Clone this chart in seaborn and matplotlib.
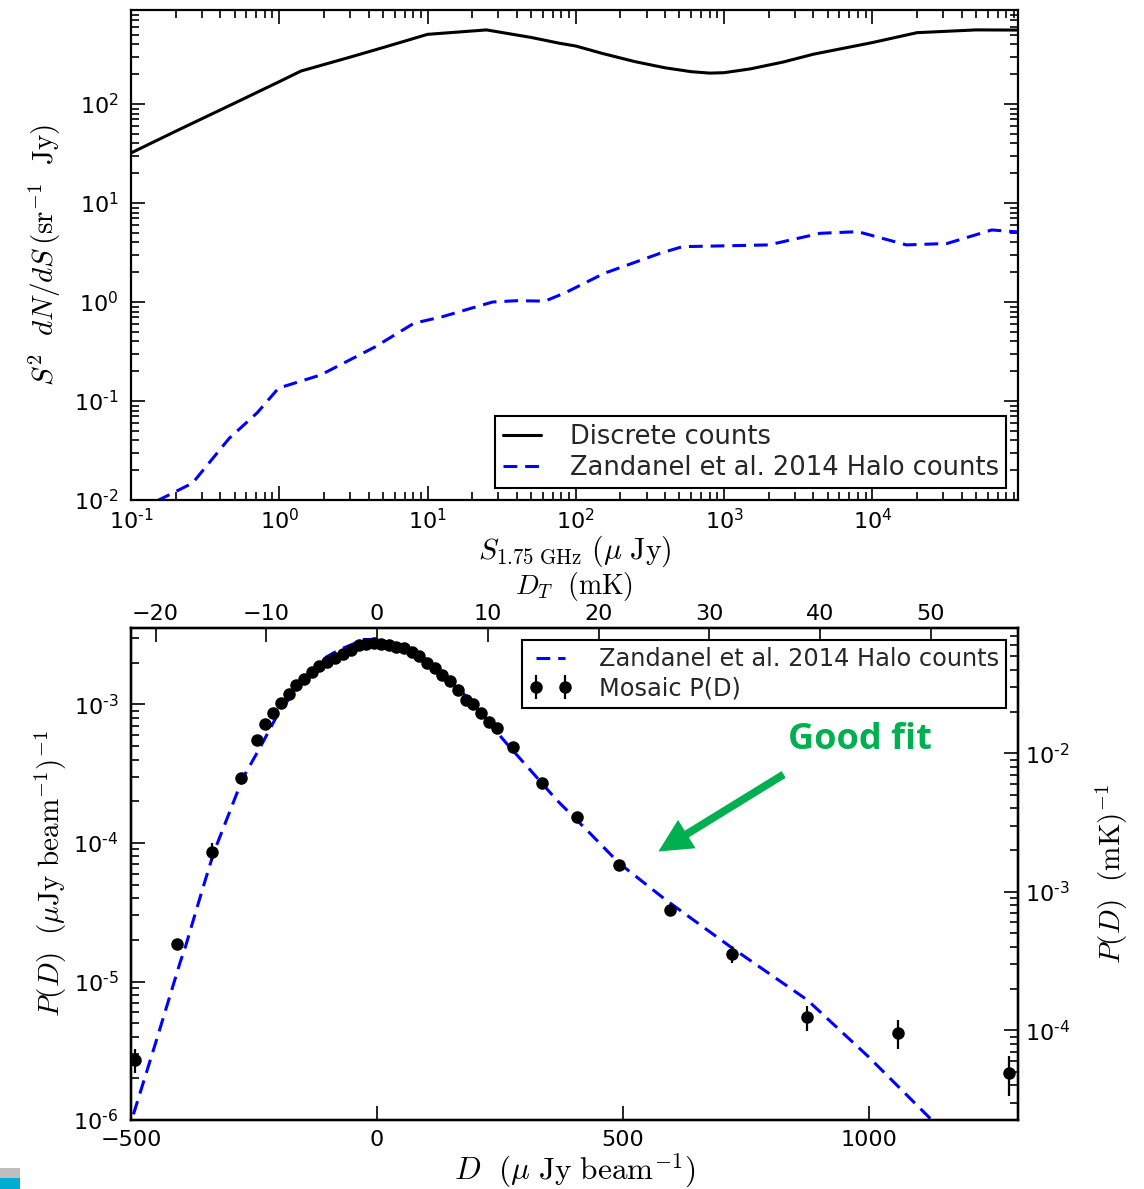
import numpy as np
import pandas as pd
import matplotlib
matplotlib.use("Agg")
import matplotlib.pyplot as plt
import seaborn as sns
from matplotlib.ticker import LogLocator, FixedLocator, FuncFormatter, NullFormatter, NullLocator
from matplotlib.patches import Rectangle, FancyArrowPatch
from matplotlib.lines import Line2D

# ---------------- data: Euclidean-normalised source counts ----------------
flux_discrete = [0.1, 0.2, 0.5, 1.0, 1.4, 3.0, 5.0, 10.0, 25.0, 50.0, 78.0, 100.0, 150.0, 250.0,
                 400.0, 600.0, 800.0, 1000.0, 1500.0, 2500.0, 4000.0, 10000.0, 20000.0, 50000.0, 95000.0]
counts_discrete = [32, 53, 102, 168, 215, 297, 371, 505, 560, 470, 410, 385, 325, 268,
                   232, 212, 205, 207, 226, 265, 318, 417, 525, 560, 558]

flux_halo = [0.15, 0.26, 0.46, 0.71, 0.99, 1.9, 4.4, 8.1, 12.6, 27.5, 40.0, 62.0, 85.0,
             156.0, 370.0, 525.0, 2000.0, 4460.0, 7990.0, 17000.0, 32000.0, 64000.0, 95000.0]
counts_halo = [0.0098, 0.0148, 0.042, 0.076, 0.135, 0.183, 0.35, 0.61, 0.71, 1.0, 1.03, 1.02, 1.24,
               1.95, 3.1, 3.62, 3.77, 4.94, 5.13, 3.77, 3.9, 5.34, 5.1]

# ---------------- data: P(D) of the mosaic ----------------
pd_flux = [-492.5, -406.2, -335.1, -276.8, -243.3, -227.9, -212.2, -196.0, -179.8, -164.1,
           -149.3, -133.0, -117.4, -101.9, -86.3, -70.1, -53.6, -37.6, -22.7, -7.1,
           8.5, 23.4, 39.0, 54.4, 70.1, 85.7, 101.1, 116.8, 132.4, 148.7,
           164.1, 179.7, 195.0, 210.8, 227.1, 243.1, 276.6, 335.5, 405.8, 491.1,
           596.1, 721.6, 873.7, 1059.1, 1283.5]
pd_value = [2.72e-6, 1.85e-5, 8.67e-5, 2.94e-4, 5.55e-4, 7.21e-4, 8.61e-4, 1.03e-3, 1.19e-3, 1.38e-3,
            1.52e-3, 1.71e-3, 1.88e-3, 2.03e-3, 2.16e-3, 2.32e-3, 2.49e-3, 2.68e-3, 2.75e-3, 2.77e-3,
            2.75e-3, 2.68e-3, 2.61e-3, 2.54e-3, 2.40e-3, 2.22e-3, 1.99e-3, 1.84e-3, 1.63e-3, 1.47e-3,
            1.27e-3, 1.08e-3, 1.00e-3, 8.70e-4, 7.41e-4, 6.74e-4, 4.92e-4, 2.72e-4, 1.55e-4, 6.89e-5,
            3.28e-5, 1.58e-5, 5.52e-6, 4.23e-6, 2.18e-6]
pd_error = [0.55e-6, 1.0e-6, 1.3e-5, 1.5e-5, 3.0e-5, 2.0e-5, 2.0e-5, 2.0e-5, 2.0e-5, 2.0e-5,
            2.0e-5, 2.0e-5, 2.0e-5, 2.0e-5, 2.0e-5, 2.0e-5, 2.0e-5, 2.0e-5, 2.0e-5, 2.0e-5,
            2.0e-5, 2.0e-5, 2.0e-5, 2.0e-5, 2.0e-5, 2.0e-5, 2.0e-5, 2.0e-5, 2.0e-5, 2.0e-5,
            2.0e-5, 2.0e-5, 2.0e-5, 2.0e-5, 2.0e-5, 1.5e-5, 1.2e-5, 8.0e-6, 6.0e-6, 4.6e-6,
            3.0e-6, 2.2e-6, 1.15e-6, 1.0e-6, 0.7e-6]

model_flux = [-495, -450, -400, -389, -355, -332, -300, -273, -237, -201, -160, -128, -103, -78,
              -27, 0, 9, 50, 89, 130, 169, 215, 263, 310, 365, 430, 492, 587, 718, 874, 998, 1127]
model_value = [1.1e-6, 3.6e-6, 1.38e-5, 1.8e-5, 4.6e-5, 8.5e-5, 1.66e-4, 2.93e-4, 4.94e-4, 8.6e-4,
               1.35e-3, 1.82e-3, 2.2e-3, 2.47e-3, 2.94e-3, 2.95e-3, 2.91e-3, 2.57e-3, 2.15e-3, 1.7e-3,
               1.27e-3, 8.3e-4, 5.23e-4, 3.4e-4, 2.04e-4, 1.2e-4, 7.13e-5, 3.87e-5, 1.78e-5, 7.36e-6,
               2.87e-6, 1.0e-6]

mk_per_ujy = 1.0 / 22.5        # brightness temperature conversion (mK per uJy/beam)

top_x_ticks = [-20, -10, 0, 10, 20, 30, 40, 50]
bottom_x_ticks = [-500, 0, 500, 1000]
count_flux_decades = [-1, 0, 1, 2, 3, 4]
count_decades = [-2, -1, 0, 1, 2]

# ---------------- style ----------------
sns.set_theme(style="ticks")
plt.rcParams.update({
    "font.family": ["DejaVu Sans"],
    "mathtext.fontset": "cm",
    "axes.linewidth": 1.6,
    "axes.edgecolor": "black",
    "xtick.color": "black",
    "ytick.color": "black",
    "axes.labelcolor": "black",
})

TICK_FS = 16
XLABEL_FS = 22.5
YLABEL_FS = 21
HYPHEN = "\u2010"


def log_label(v, pos):
    if v <= 0:
        return ""
    e = int(round(np.log10(v)))
    if e < 0:
        return "$\\mathdefault{10^{" + HYPHEN + str(-e) + "}}$"
    return "$\\mathdefault{10^{" + str(e) + "}}$"


def style_log_axis(axis, decades=None):
    if decades is None:
        axis.set_major_locator(LogLocator(base=10, numticks=20))
        axis.set_minor_locator(LogLocator(base=10, subs=np.arange(2, 10), numticks=20))
    else:
        majors = [10.0 ** d for d in decades]
        minors = [m * 10.0 ** d for d in decades for m in range(2, 10)]
        axis.set_major_locator(FixedLocator(majors))
        axis.set_minor_locator(FixedLocator(minors))
    axis.set_major_formatter(FuncFormatter(log_label))
    axis.set_minor_formatter(NullFormatter())


fig = plt.figure(figsize=(11.44, 11.89), dpi=100)

# ================= upper panel: S^2 dN/dS =================
ax1 = fig.add_axes([0.1145, 0.5795, 0.7753, 0.4121])
df_disc = pd.DataFrame({"S": flux_discrete, "counts": counts_discrete})
df_halo = pd.DataFrame({"S": flux_halo, "counts": counts_halo})
sns.lineplot(data=df_disc, x="S", y="counts", ax=ax1, color="black", lw=2.2,
             estimator=None, sort=False)
sns.lineplot(data=df_halo, x="S", y="counts", ax=ax1, color="blue", lw=2.2,
             estimator=None, sort=False)
ax1.lines[-1].set_dashes((4.5, 2.6))
ax1.set_xscale("log")
ax1.set_yscale("log")
ax1.set_xlim(0.1, 9.6e4)
ax1.set_ylim(1e-2, 890)
style_log_axis(ax1.xaxis, count_flux_decades)
style_log_axis(ax1.yaxis, count_decades)
ax1.tick_params(which="both", direction="in", top=True, right=True, width=1.2,
                labelsize=TICK_FS)
ax1.tick_params(which="major", length=10)
ax1.tick_params(which="minor", length=5.5)
ax1.tick_params(axis="x", pad=6)
ax1.tick_params(axis="y", pad=9)
ax1.set_xlabel(r"$S_{1.75\ \mathrm{GHz}}\ (\mu\ \mathrm{Jy})$", fontsize=21.5, labelpad=0)
ax1.set_ylabel(r"$S^2\ \ dN/dS\,(\mathrm{sr}^{-1}\ \ \mathrm{Jy})$", fontsize=YLABEL_FS, labelpad=8)

h_disc = Line2D([], [], color="black", lw=2.2)
h_halo = Line2D([], [], color="blue", lw=2.2, dashes=(4.5, 2.6))
leg1 = ax1.legend([h_disc, h_halo], ["Discrete counts", "Zandanel et al. 2014 Halo counts"],
                  loc="lower right", fontsize=18.5, frameon=True, fancybox=False,
                  edgecolor="black", framealpha=1, handlelength=1.5, handletextpad=1.1,
                  borderpad=0.3, labelspacing=0.2, borderaxespad=0.45)
leg1.get_frame().set_linewidth(1.5)

# ================= lower panel: P(D) =================
ax2 = fig.add_axes([0.1145, 0.0580, 0.7753, 0.4138])
df_model = pd.DataFrame({"D": model_flux, "P": model_value})
sns.lineplot(data=df_model, x="D", y="P", ax=ax2, color="blue", lw=2.2,
             estimator=None, sort=False, zorder=2)
ax2.lines[-1].set_dashes((4.5, 2.6))
eb = ax2.errorbar(pd_flux, pd_value, yerr=pd_error, fmt="o", color="black", ms=8,
                  elinewidth=1.6, capsize=0, zorder=3)
ax2.set_yscale("log")
ax2.set_xlim(-500, 1302)
ax2.set_ylim(1e-6, 3.56e-3)
style_log_axis(ax2.yaxis, [-6, -5, -4, -3])
ax2.xaxis.set_major_locator(FixedLocator(bottom_x_ticks))
ax2.xaxis.set_minor_locator(NullLocator())
ax2.set_xlabel(r"$D\ \ (\mu\ \mathrm{Jy\ beam}^{-1})$", fontsize=XLABEL_FS, labelpad=1)
ax2.set_ylabel(r"$P(D)\ \ (\mu\mathrm{Jy\ beam}^{-1})^{-1}$", fontsize=YLABEL_FS, labelpad=3)

# temperature axis on top
ax2t = ax2.twiny()
ax2t.set_xlim(ax2.get_xlim()[0] * mk_per_ujy, ax2.get_xlim()[1] * mk_per_ujy)
ax2t.xaxis.set_major_locator(FixedLocator(top_x_ticks))
ax2t.xaxis.set_minor_locator(NullLocator())
ax2t.set_xlabel(r"$D_T\ \ (\mathrm{mK})$", fontsize=20, labelpad=7)

# P(D) per mK on the right
ax2r = ax2.twinx()
ax2r.set_yscale("log")
ax2r.set_ylim(ax2.get_ylim()[0] / mk_per_ujy, ax2.get_ylim()[1] / mk_per_ujy)
style_log_axis(ax2r.yaxis, [-5, -4, -3, -2, -1])
ax2r.set_ylabel(r"$P(D)\ \ (\mathrm{mK})^{-1}$", fontsize=YLABEL_FS, labelpad=17)

for a in (ax2, ax2t, ax2r):
    a.tick_params(which="both", direction="in", width=1.2, labelsize=TICK_FS)
    a.tick_params(which="major", length=10)
    a.tick_params(which="minor", length=5.5)
ax2.tick_params(axis="x", top=False, pad=7)
ax2.tick_params(axis="y", right=False, pad=9)
ax2t.tick_params(axis="x", pad=3)
ax2r.tick_params(axis="y", pad=5)

leg2 = ax2r.legend([h_halo, eb], ["Zandanel et al. 2014 Halo counts", "Mosaic P(D)"],
                   loc="upper right", fontsize=17.3, numpoints=2, frameon=True,
                   fancybox=False, edgecolor="black", framealpha=1, handlelength=1.8,
                   handletextpad=1.1, borderpad=0.3, labelspacing=0.22,
                   borderaxespad=0.5)
leg2.get_frame().set_linewidth(1.5)

# annotation
fig.text(860 / 1144, 1 - 740 / 1189, "Good fit", color="#00B050", fontsize=26,
         fontweight="bold", family=["Open Sans", "DejaVu Sans"], ha="center", va="center")
arrow = FancyArrowPatch((786 / 1144, 1 - 773 / 1189), (656 / 1144, 1 - 853 / 1189),
                        transform=fig.transFigure,
                        arrowstyle="simple,head_length=1.2,head_width=1.2,tail_width=0.28",
                        mutation_scale=20, color="#00B050", lw=0)
fig.patches.append(arrow)

# small footer bar in the lower-left corner
fig.patches.append(Rectangle((0, 1 - 1178 / 1189), 20 / 1144, 10 / 1189,
                             transform=fig.transFigure, color="#BEBEBE", lw=0))
fig.patches.append(Rectangle((0, 0), 20 / 1144, 11 / 1189,
                             transform=fig.transFigure, color="#00ACD2", lw=0))

fig.savefig("out.png", dpi=100, facecolor="white")
